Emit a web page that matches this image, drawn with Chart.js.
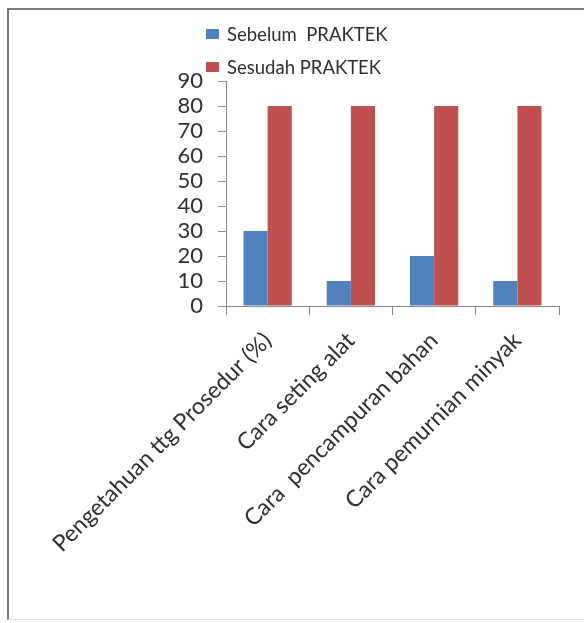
<!DOCTYPE html>
<html>
<head>
<meta charset="utf-8">
<script src="https://cdn.jsdelivr.net/npm/chart.js@4/dist/chart.umd.min.js"></script>
<style>
  html, body { margin: 0; padding: 0; background: #fff; }
  #wrap { position: relative; width: 584px; height: 623px; overflow: hidden; }
  #frame {
    position: absolute; left: 7px; top: 8px; width: 590px; height: 612px;
    border-left: 2px solid #7a7a7a; border-top: 2px solid #7a7a7a;
    border-bottom: 1px solid #e2e2e2; box-sizing: border-box;
  }
  canvas { position: absolute; left: 0; top: 0; }
</style>
</head>
<body>
<div id="wrap">
  <div id="frame"></div>
  <canvas id="chart" width="584" height="623"></canvas>
</div>
<script>
const categories = ["Pengetahuan ttg Prosedur (%)", "Cara seting alat", "Cara  pencampuran bahan", "Cara pemurnian minyak"];
const seriesNames = ["Sebelum  PRAKTEK", "Sesudah PRAKTEK"];
const sebelum = [30, 10, 20, 10];
const sesudah = [80, 80, 80, 80];
const yMin = 0;
const yMax = 90;
const yStep = 10;

const FONT = "Lato, 'Open Sans', sans-serif";
const TEXT = "#2f2f2f";
const AXIS = "#8c8c8c";

// legend stacked in two rows, drawn from the datasets
const stackedLegend = {
  id: "stackedLegend",
  afterDraw(chart) {
    const ctx = chart.ctx;
    ctx.save();
    ctx.font = "18.5px " + FONT;
    ctx.textBaseline = "middle";
    chart.data.datasets.forEach((ds, i) => {
      const y = 34 + i * 33;
      ctx.fillStyle = ds.backgroundColor;
      ctx.fillRect(206, y - 5, 13, 10);
      ctx.fillStyle = TEXT;
      ctx.fillText(ds.label, 227, y + 1);
    });
    ctx.restore();
  }
};

new Chart(document.getElementById("chart"), {
  type: "bar",
  data: {
    labels: categories,
    datasets: [
      { label: seriesNames[0], data: sebelum, backgroundColor: "#4f81bd" },
      { label: seriesNames[1], data: sesudah, backgroundColor: "#c0504d" }
    ]
  },
  options: {
    responsive: false,
    animation: false,
    layout: { padding: { top: 81, right: 25, left: 0, bottom: 0 } },
    datasets: { bar: { categoryPercentage: 0.58, barPercentage: 1.0 } },
    plugins: { legend: { display: false }, tooltip: { enabled: false } },
    scales: {
      x: {
        grid: { display: true, drawOnChartArea: false, drawTicks: true, tickLength: 9, color: AXIS, offset: true },
        border: { color: AXIS, width: 1 },
        ticks: { color: TEXT, font: { family: FONT, size: 23 }, minRotation: 45, maxRotation: 45, autoSkip: false, padding: 12 },
        afterFit(scale) { scale.height = 623 - 306; }
      },
      y: {
        min: yMin,
        max: yMax,
        grid: { display: true, drawOnChartArea: false, drawTicks: true, tickLength: 8, color: AXIS },
        border: { color: AXIS, width: 1 },
        ticks: { stepSize: yStep, autoSkip: false, color: TEXT, font: { family: FONT, size: 22 }, padding: 15 },
        afterFit(scale) { scale.width = 226; }
      }
    }
  },
  plugins: [stackedLegend]
});
</script>
</body>
</html>
